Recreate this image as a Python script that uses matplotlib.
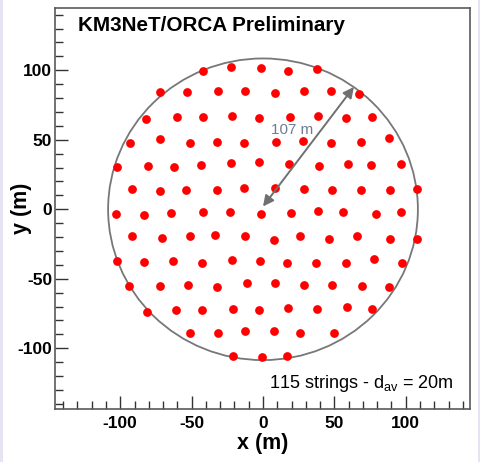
import numpy as np
import matplotlib
matplotlib.use("Agg")
import matplotlib.pyplot as plt
from matplotlib.patches import Circle, Rectangle

plt.rcParams['font.family'] = ['Liberation Sans', 'DejaVu Sans']
plt.rcParams['mathtext.fontset'] = 'custom'
plt.rcParams['mathtext.rm'] = 'Liberation Sans'
plt.rcParams['axes.unicode_minus'] = False

# string positions (m), row by row from top to bottom
string_x = [
    -41.8, -22.4, -1.2, 17.5, 37.6,
    -72.1, -53.0, -31.5, -12.4, 8.6, 28.7, 47.8, 67.4,
    -82.1, -60.4, -42.0, -21.5, -3.0, 18.9, 38.7, 57.9, 76.3,
    -93.1, -72.1, -51.3, -32.2, -13.3, 9.3, 28.2, 47.8, 68.8, 88.4,
    -102.5, -80.5, -62.5, -43.6, -22.2, -2.6, 18.2, 39.4, 59.5, 75.8, 96.4,
    -91.5, -72.3, -53.9, -32.2, -13.1, 8.4, 28.7, 48.5, 68.8, 88.9, 107.8,
    -102.8, -83.2, -64.2, -42.2, -22.9, -1.2, 19.4, 38.3, 56.0, 79.1, 96.4,
    -91.5, -70.7, -50.9, -33.8, -12.8, 7.5, 26.1, 46.4, 66.0, 88.7, 107.8,
    -102.0, -83.1, -63.2, -42.7, -21.7, -2.3, 16.8, 37.1, 58.1, 77.7, 97.3,
    -93.6, -72.3, -52.5, -32.2, -11.2, 8.4, 28.5, 48.5, 69.5, 88.4,
    -81.0, -60.9, -42.5, -20.8, -3.0, 17.5, 38.0, 58.8, 76.3,
    -51.3, -31.7, -12.4, 7.9, 26.1, 49.5,
    -21.2, -0.5, 16.6,
]
string_y = [
    99.7, 102.2, 101.7, 99.7, 100.9,
    84.6, 84.2, 85.1, 85.3, 83.9, 84.9, 84.9, 82.9,
    64.7, 66.6, 66.4, 67.3, 65.8, 66.6, 66.9, 65.5, 66.6,
    47.9, 50.6, 47.5, 48.4, 47.9, 48.4, 49.4, 47.9, 48.6, 51.1,
    30.6, 31.2, 30.4, 32.1, 33.1, 33.9, 32.4, 31.2, 32.6, 32.1, 32.8,
    14.4, 12.9, 14.1, 13.9, 15.1, 15.3, 14.4, 13.7, 13.7, 14.1, 14.4,
    -3.2, -3.9, -2.4, -2.3, -1.9, -3.7, -2.9, -1.0, -1.9, -3.4, -1.7,
    -19.0, -20.4, -19.0, -18.7, -19.0, -21.9, -19.0, -21.2, -19.2, -21.6, -21.6,
    -37.2, -37.7, -37.2, -38.4, -36.3, -37.5, -38.8, -38.6, -38.8, -36.0, -38.8,
    -55.2, -55.2, -54.2, -55.9, -53.2, -53.2, -54.7, -54.7, -55.2, -55.7,
    -73.7, -72.7, -72.4, -71.5, -72.7, -70.8, -71.7, -70.3, -71.9,
    -89.0, -89.0, -87.3, -87.6, -89.0, -89.2,
    -105.5, -106.0, -105.3,
]

n_strings = 115
d_av = 20
radius = 107          # quoted radius of the footprint
circle_r = 108.5      # drawn boundary
arrow_angle = 53.5    # degrees
arrow_start = (0.0, 2.0)

fig = plt.figure(figsize=(4.81, 4.62), dpi=100)
fig.patch.set_facecolor('white')
# thin lavender strips at the left/right edges
fig.add_artist(Rectangle((0, 0), 3 / 481, 1, transform=fig.transFigure,
                         color='#e6e4f4', lw=0))
fig.add_artist(Rectangle((1 - 3 / 481, 0), 3 / 481, 1, transform=fig.transFigure,
                         color='#e6e4f4', lw=0))

ax = fig.add_axes([55 / 481, 1 - 409.3 / 462, 415 / 481, 401.3 / 462])
ax.set_xlim(-145.7, 145.0)
ax.set_ylim(-143.9, 144.8)

ax.add_patch(Circle((0, 0), circle_r, fill=False, ec='#777777', lw=1.3, zorder=2))
ax.plot(string_x, string_y, 'o', color='#ff0000', ms=6.3, mec='none', zorder=3)

# radius arrow
a = np.deg2rad(arrow_angle)
x0, y0 = arrow_start
x1, y1 = x0 + radius * np.cos(a), y0 + radius * np.sin(a)
ax.annotate('', xy=(x1, y1), xytext=(x0, y0),
            arrowprops=dict(arrowstyle='<|-|>', color='#707070', lw=1.4,
                            mutation_scale=16, shrinkA=0, shrinkB=0), zorder=4)
ax.text(20.5, 57, f'{radius} m', color='#6f7c92', fontsize=11,
        ha='center', va='center', zorder=5)

ax.text(-129.5, 132, 'KM3NeT/ORCA Preliminary', fontsize=14.9, fontweight='bold',
        ha='left', va='center')
ax.text(133.5, -125.5, f'{n_strings} strings - d$_{{\\mathregular{{av}}}}$ = {d_av}m',
        fontsize=13, ha='right', va='center')

ax.set_xticks([-100, -50, 0, 50, 100])
ax.set_yticks([-100, -50, 0, 50, 100])
ax.set_xticks(np.arange(-140, 141, 10), minor=True)
ax.set_yticks(np.arange(-140, 141, 10), minor=True)
ax.tick_params(which='both', direction='in', top=False, right=False,
               color='#333333', width=1.0)
ax.tick_params(which='major', length=9.5, labelsize=12.5, pad=5)
ax.tick_params(axis='y', which='major', pad=2)
ax.tick_params(which='minor', length=5.5)
for lab in ax.get_xticklabels() + ax.get_yticklabels():
    lab.set_fontweight('bold')

for s in ax.spines.values():
    s.set_color('#5a5a5a')
    s.set_linewidth(1.2)

ax.set_xlabel('x (m)', fontsize=15.5, fontweight='bold')
ax.xaxis.set_label_coords(0.5, -0.058)
ax.set_ylabel('y (m)', fontsize=15.5, fontweight='bold')
ax.yaxis.set_label_coords(-0.056, 0.5)

fig.savefig('out.png', dpi=100)
